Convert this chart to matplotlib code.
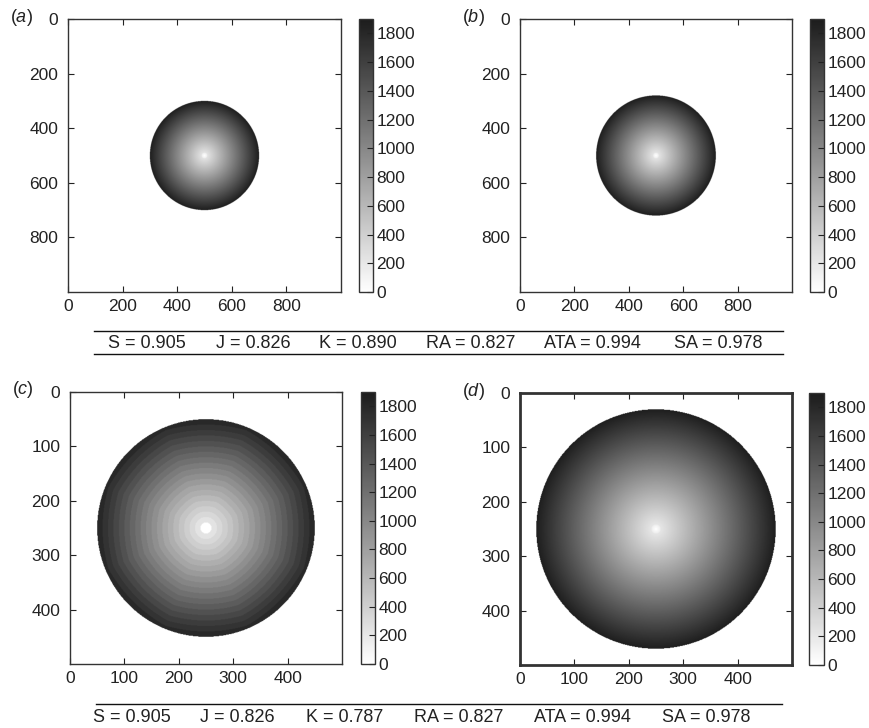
import numpy as np
import matplotlib
matplotlib.use("Agg")
import matplotlib.pyplot as plt
from matplotlib.colors import LinearSegmentedColormap
from matplotlib.lines import Line2D

plt.rcParams["font.family"] = ["Liberation Sans", "DejaVu Sans"]
plt.rcParams["mathtext.fontset"] = "custom"
plt.rcParams["mathtext.rm"] = "Liberation Sans"
plt.rcParams["mathtext.it"] = "Liberation Sans:italic"

# panel settings
labels = ["a", "b", "c", "d"]
grid_size = [1000, 1000, 500, 500]
centre = [500, 500, 250, 250]
radius = [200, 220, 200, 220]
dot_radius = [10, 10, 10, 8]        # bright spot in the middle
inner_value = [150, 150, 150, 150]  # value just outside the spot
edge_value = [1880, 1880, 1880, 1880]
ring_step = [0, 0, 10, 0]           # (c) shows stepped rings
tick_step = [200, 200, 100, 100]
vmax = 1900
cbar_ticks = [0, 200, 400, 600, 800, 1000, 1200, 1400, 1600, 1800]

metric_names = ["S", "J", "K", "RA", "ATA", "SA"]
metrics_top = [0.905, 0.826, 0.890, 0.827, 0.994, 0.978]
metrics_bottom = [0.905, 0.826, 0.787, 0.827, 0.994, 0.978]

cmap = LinearSegmentedColormap.from_list("grey", ["#ffffff", "#1c1c1c"])

fig = plt.figure(figsize=(8.7, 7.28), dpi=100)
W, H = 870.0, 728.0

# pixel boxes: (left, top, right, bottom) for axes and colorbars
ax_boxes = [(68, 19, 341, 292), (520, 19, 792, 292),
            (70, 392, 342, 664), (520, 393, 792, 665)]
cb_boxes = [(359, 19, 373, 292), (810, 19, 824, 292),
            (361, 392, 375, 664), (809, 393, 824, 665)]


def box(b):
    l, t, r, bt = b
    return [l / W, 1 - bt / H, (r - l) / W, (bt - t) / H]


for i in range(4):
    n = grid_size[i]
    yy, xx = np.mgrid[0:n, 0:n] + 0.5
    dx, dy = np.abs(xx - centre[i]), np.abs(yy - centre[i])
    r = np.hypot(dx, dy)
    rr = r
    if ring_step[i]:
        # slightly octagonal, stepped contours as in (c)
        oct_r = np.maximum(np.maximum(dx, dy), (dx + dy) * 0.7071)
        rr = 0.3 * oct_r + 0.7 * r
        rr = np.floor(rr / ring_step[i]) * ring_step[i]
    R = radius[i]
    v = inner_value[i] + (edge_value[i] - inner_value[i]) * np.minimum(rr / R, 1)
    v = np.where(rr < dot_radius[i], inner_value[i] * rr / dot_radius[i], v)
    img = np.where(r <= R, v, 0)

    ax = fig.add_axes(box(ax_boxes[i]))
    im = ax.imshow(img, cmap=cmap, vmin=0, vmax=vmax, extent=(0, n, n, 0),
                   aspect="auto", interpolation="antialiased")
    ticks = np.arange(0, n, tick_step[i])
    ax.set_xticks(ticks)
    ax.set_yticks(ticks)
    ax.tick_params(direction="in", top=True, right=True, length=4,
                   labelsize=12.5, colors="#222222", width=0.8)
    ax.tick_params(axis="y", pad=7)
    ax.tick_params(axis="x", pad=5)
    lw = 2.0 if i == 3 else 1.0
    for s in ax.spines.values():
        s.set_color("#333333")
        s.set_linewidth(lw)

    cax = fig.add_axes(box(cb_boxes[i]))
    cb = fig.colorbar(im, cax=cax, ticks=cbar_ticks)
    cb.ax.tick_params(direction="in", length=4, labelsize=12.5,
                      colors="#222222", pad=2.5, width=0.8)
    cb.outline.set_edgecolor("#333333")
    cb.outline.set_linewidth(1.0)

    l, t, _, _ = ax_boxes[i]
    fig.text((l - 47) / W, 1 - (t - 2) / H, "($\\mathit{%s}$)" % labels[i],
             fontsize=13, color="#222222", ha="center", va="center")

# metric rows between panels
rows = [(metrics_top, 331, 354, 344, 94, 783,
         [147, 253, 358, 471, 592, 718]),
        (metrics_bottom, 704, None, 717, 96, 782,
         [132, 237, 345, 459, 582, 706])]
for vals, y_top, y_bot, y_txt, x0, x1, xs in rows:
    fig.add_artist(Line2D([x0 / W, x1 / W], [1 - y_top / H] * 2,
                          color="#111111", lw=1.0))
    if y_bot is not None:
        fig.add_artist(Line2D([x0 / W, x1 / W], [1 - y_bot / H] * 2,
                              color="#111111", lw=1.0))
    for name, v, x in zip(metric_names, vals, xs):
        fig.text(x / W, 1 - y_txt / H, "%s = %.3f" % (name, v),
                 fontsize=13, color="#222222", ha="center", va="center")

fig.savefig("out.png", dpi=100)
